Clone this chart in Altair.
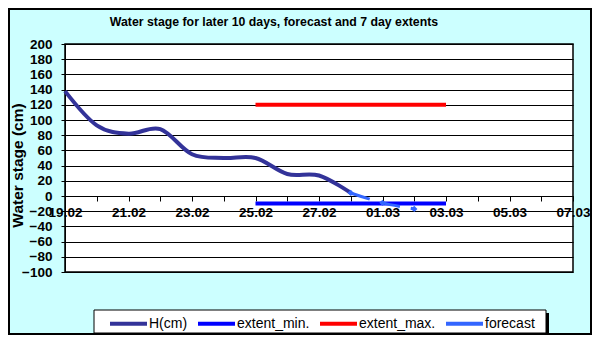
import altair as alt
import pandas as pd

FONT = "Liberation Sans"

# ---- data ----
h_dates = ["2023-02-19", "2023-02-20", "2023-02-21", "2023-02-22", "2023-02-23",
           "2023-02-24", "2023-02-25", "2023-02-26", "2023-02-27", "2023-02-28"]
h_values = [138, 93, 82, 88, 55, 50, 50, 29, 27, 4]

fc_dates = ["2023-02-28", "2023-03-01", "2023-03-02"]
fc_values = [4, -9, -17]

ext_dates = ["2023-02-25", "2023-03-03"]
ext_min_values = [-10, -10]
ext_max_values = [120, 120]

tick_dates = ["2023-02-19", "2023-02-20", "2023-02-21", "2023-02-22", "2023-02-23",
              "2023-02-24", "2023-02-25", "2023-02-26", "2023-02-27", "2023-02-28",
              "2023-03-01", "2023-03-02", "2023-03-03", "2023-03-04", "2023-03-05",
              "2023-03-06", "2023-03-07"]
y_ticks = [-100, -80, -60, -40, -20, 0, 20, 40, 60, 80, 100, 120, 140, 160, 180, 200]

series_names = ["H(cm)", "extent_min.", "extent_max.", "forecast"]
series_colors = ["#333399", "#0000FF", "#FF0000", "#3366FF"]

title_text = "Water stage for later 10 days, forecast and 7 day extents"
y_title = "Water stage (cm)"

# ---- tables ----
def ms(d):
    return int(pd.Timestamp(d, tz="UTC").value // 10**6)

tick_ms = [ms(d) for d in tick_dates]
t0 = tick_ms[0]

h_df = pd.DataFrame({"date": h_dates, "value": h_values, "series": series_names[0]})
min_df = pd.DataFrame({"date": ext_dates, "value": ext_min_values, "series": series_names[1]})
max_df = pd.DataFrame({"date": ext_dates, "value": ext_max_values, "series": series_names[2]})
fc_df = pd.DataFrame({"date": fc_dates, "value": fc_values, "series": series_names[3]})
one = pd.DataFrame({"t": [title_text]})

x_enc = alt.X(
    "date:T",
    scale=alt.Scale(type="utc", domain=[tick_ms[0], tick_ms[-1]]),
    axis=alt.Axis(
        values=tick_ms,
        labelExpr=f"round((datum.value - {t0})/86400000) % 2 == 0 ? utcFormat(datum.value, '%d.%m') : ''",
        offset=-76, grid=False, title=None,
        domainColor="black", domainWidth=1, tickColor="black", tickSize=5, tickWidth=1,
        labelFont=FONT, labelFontSize=13.5, labelFontWeight="bold", labelColor="black",
        labelPadding=4, labelOverlap=False, labelFlush=False, labelBound=False,
    ),
)
y_enc = alt.Y(
    "value:Q",
    scale=alt.Scale(domain=[-100, 200], nice=False, zero=False),
    axis=alt.Axis(
        values=y_ticks, grid=True, gridColor="black", gridWidth=1, gridOpacity=1,
        domainColor="black", tickColor="black", tickSize=4, labelPadding=9,
        labelFont=FONT, labelFontSize=13.5, labelFontWeight="bold", labelColor="black",
        title=y_title, titleFont=FONT, titleFontSize=15.5, titleFontWeight="bold",
        titleColor="black", titleX=-47.5, titleY=121, titleAngle=270,
        titleAlign="center", titleBaseline="middle",
    ),
)
color_enc = alt.Color(
    "series:N",
    scale=alt.Scale(domain=series_names, range=series_colors),
    legend=alt.Legend(
        orient="none", legendX=43, legendY=259, direction="horizontal", title=None,
        symbolType="stroke", symbolSize=1369, symbolStrokeWidth=4,
        labelFont=FONT, labelFontSize=14, labelColor="black", labelOffset=0,
        columnPadding=2, labelLimit=300,
    ),
)

frame = alt.Chart(one).mark_rect(fill=None, stroke="black", strokeWidth=2).encode(
    x=alt.value(-56), x2=alt.value(526), y=alt.value(-35), y2=alt.value(290))
shadow = alt.Chart(one).mark_rect(fill="black").encode(
    x=alt.value(33), x2=alt.value(484), y=alt.value(269), y2=alt.value(292))
box = alt.Chart(one).mark_rect(fill="white", stroke="black", strokeWidth=1).encode(
    x=alt.value(29), x2=alt.value(481), y=alt.value(266), y2=alt.value(289))

h_line = alt.Chart(h_df).mark_line(strokeWidth=4, interpolate="cardinal", tension=0).encode(
    x=x_enc, y=y_enc, color=color_enc)
min_line = alt.Chart(min_df).mark_line(strokeWidth=4).encode(x=x_enc, y=y_enc, color=color_enc)
max_line = alt.Chart(max_df).mark_line(strokeWidth=4).encode(x=x_enc, y=y_enc, color=color_enc)
fc_line = alt.Chart(fc_df).mark_line(strokeWidth=3, interpolate="cardinal", tension=0,
                                     strokeDash=[20, 11]).encode(x=x_enc, y=y_enc, color=color_enc)
fc_pts = alt.Chart(fc_df).mark_point(shape="diamond", filled=True, size=40, opacity=1).encode(
    x=x_enc, y=y_enc, color=color_enc)

title = alt.Chart(one).mark_text(font=FONT, fontSize=12.3, fontWeight="bold", color="black",
                                 align="center", baseline="middle").encode(
    x=alt.value(209), y=alt.value(-22), text="t:N")

chart = alt.layer(frame, shadow, box, h_line, min_line, max_line, fc_line, fc_pts, title).properties(
    width=508, height=228,
    padding={"left": 57, "top": 36, "right": 19, "bottom": 63},
    autosize=alt.AutoSizeParams(type="none"),
    background="#CCFFFF",
).configure_view(fill="white", stroke="black", strokeWidth=1.5)

chart.save("out.html", embed_options={"renderer": "svg", "actions": False})
